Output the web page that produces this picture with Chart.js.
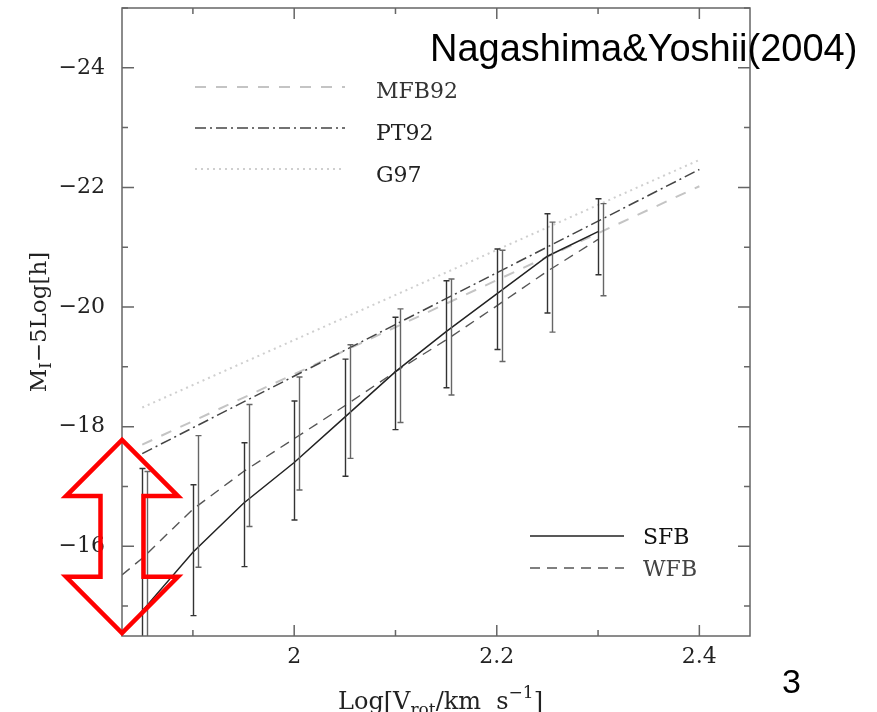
<!DOCTYPE html>
<html>
<head>
<meta charset="utf-8">
<script src="https://cdn.jsdelivr.net/npm/chart.js@4.4.1/dist/chart.umd.min.js"></script>
<style>
  html, body { margin: 0; padding: 0; background: #fff; }
  canvas { display: block; }
</style>
</head>
<body>
<canvas id="tf-chart" width="877" height="712"></canvas>
<script>
// Model Tully-Fisher relations, sampled in log rotation velocity
var logV = [1.83, 1.85, 1.90, 1.95, 2.00, 2.05, 2.10, 2.15, 2.20, 2.25, 2.30];
var sfbMag = [-14.52, -14.92, -15.90, -16.72, -17.40, -18.16, -18.92, -19.59, -20.22, -20.85, -21.26];
var wfbMag = [-15.52, -15.80, -16.62, -17.25, -17.80, -18.35, -18.92, -19.45, -20.02, -20.60, -21.13];

// Observed relations
var obsLogV = [1.85, 2.40];
var mfb92Mag = [-17.70, -22.02];
var pt92Mag = [-17.55, -22.30];
var g97Mag = [-18.32, -22.46];

// Scatter of model galaxies in each velocity bin (bright end / faint end)
var binLogV = [1.85, 1.90, 1.95, 2.00, 2.05, 2.10, 2.15, 2.20, 2.25, 2.30];
var sfbBright = [-17.30, -17.03, -17.73, -18.43, -19.13, -19.83, -20.44, -20.97, -21.56, -21.81];
var sfbFaint = [-12.50, -14.84, -15.66, -16.44, -17.17, -17.95, -18.65, -19.29, -19.90, -20.54];
var wfbBright = [-17.25, -17.85, -18.37, -18.83, -19.37, -19.97, -20.47, -20.95, -21.42, -21.73];
var wfbFaint = [-14.30, -15.65, -16.33, -16.94, -17.47, -18.07, -18.53, -19.09, -19.58, -20.19];

// Labelled ticks
var xMajorTicks = [2.0, 2.2, 2.4];
var xTickLabels = ["2", "2.2", "2.4"];
var yMajorTicks = [-24, -22, -20, -18, -16];
var yTickLabels = ["\u221224", "\u221222", "\u221220", "\u221218", "\u221216"];

var serif = '"DejaVu Serif", serif';

function toPoints(xs, ys) {
  return xs.map(function (x, i) { return { x: x, y: ys[i] }; });
}

function labelFor(value, ticks, labels) {
  for (var i = 0; i < ticks.length; i++) {
    if (Math.abs(ticks[i] - value) < 1e-6) return labels[i];
  }
  return "";
}

function isMajorX(v) { return Math.round(v * 10) % 2 === 0; }
function isMajorY(v) { return Math.round(v) % 2 === 0; }

// draws a run of text pieces with sub/superscripts, starting at x on baseline y
function richText(ctx, parts, x, y) {
  parts.forEach(function (p) {
    ctx.font = p.size + "px " + serif;
    ctx.fillText(p.text, x, y + (p.dy || 0));
    x += ctx.measureText(p.text).width;
  });
}
function richWidth(ctx, parts) {
  var w = 0;
  parts.forEach(function (p) {
    ctx.font = p.size + "px " + serif;
    w += ctx.measureText(p.text).width;
  });
  return w;
}

var styles = {
  sfb: { color: "#222", width: 1.5, dash: [] },
  wfb: { color: "#555", width: 1.4, dash: [10, 7] },
  mfb92: { color: "#c4c4c4", width: 2, dash: [11, 10] },
  pt92: { color: "#444", width: 1.5, dash: [11, 4, 2, 4] },
  g97: { color: "#cfcfcf", width: 2, dash: [2, 4] }
};

function lineSet(label, xs, ys, st) {
  return {
    label: label,
    data: toPoints(xs, ys),
    showLine: true,
    borderColor: st.color,
    borderWidth: st.width,
    borderDash: st.dash,
    pointRadius: 0,
    tension: 0,
    fill: false
  };
}

var whiteBg = {
  id: "whiteBg",
  beforeDraw: function (chart) {
    var ctx = chart.ctx;
    ctx.save();
    ctx.fillStyle = "#fff";
    ctx.fillRect(0, 0, chart.width, chart.height);
    ctx.restore();
  }
};

var errorBars = {
  id: "errorBars",
  afterDatasetsDraw: function (chart) {
    var ctx = chart.ctx, a = chart.chartArea;
    var xs = chart.scales.x, ys = chart.scales.y;
    ctx.save();
    ctx.beginPath();
    ctx.rect(a.left, a.top, a.right - a.left, a.bottom - a.top);
    ctx.clip();
    [
      { hi: sfbBright, lo: sfbFaint, shift: 0, color: "#333" },
      { hi: wfbBright, lo: wfbFaint, shift: 5, color: "#666" }
    ].forEach(function (s) {
      ctx.strokeStyle = s.color;
      ctx.lineWidth = 1.4;
      binLogV.forEach(function (v, i) {
        var x = Math.round(xs.getPixelForValue(v) + s.shift) + 0.5;
        var y1 = ys.getPixelForValue(s.hi[i]);
        var y2 = ys.getPixelForValue(s.lo[i]);
        ctx.beginPath();
        ctx.moveTo(x, y1); ctx.lineTo(x, y2);
        ctx.moveTo(x - 3, y1); ctx.lineTo(x + 3, y1);
        ctx.moveTo(x - 3, y2); ctx.lineTo(x + 3, y2);
        ctx.stroke();
      });
    });
    ctx.restore();
  }
};

// box round the plot with inward ticks on all four sides
var frame = {
  id: "frame",
  afterDatasetsDraw: function (chart) {
    var ctx = chart.ctx, a = chart.chartArea;
    var xs = chart.scales.x, ys = chart.scales.y;
    ctx.save();
    ctx.strokeStyle = "#666";
    ctx.lineWidth = 1.5;
    ctx.strokeRect(a.left, a.top, a.right - a.left, a.bottom - a.top);
    ctx.beginPath();
    xs.ticks.forEach(function (t) {
      var x = xs.getPixelForValue(t.value);
      var len = isMajorX(t.value) ? 11 : 6;
      ctx.moveTo(x, a.bottom); ctx.lineTo(x, a.bottom - len);
      ctx.moveTo(x, a.top); ctx.lineTo(x, a.top + len);
    });
    ys.ticks.forEach(function (t) {
      var y = ys.getPixelForValue(t.value);
      var len = isMajorY(t.value) ? 12 : 6;
      ctx.moveTo(a.left, y); ctx.lineTo(a.left + len, y);
      ctx.moveTo(a.right, y); ctx.lineTo(a.right - len, y);
    });
    ctx.stroke();
    ctx.restore();
  }
};

// in-plot key: line sample followed by its name
var keyRows = [
  { text: "MFB92", st: styles.mfb92, x0: 73, x1: 223, lineY: 79, textX: 254, baseY: 90, color: "#333" },
  { text: "PT92", st: styles.pt92, x0: 73, x1: 223, lineY: 120, textX: 254, baseY: 132, color: "#222" },
  { text: "G97", st: styles.g97, x0: 73, x1: 223, lineY: 161, textX: 254, baseY: 174, color: "#222" },
  { text: "SFB", st: styles.sfb, x0: 408, x1: 502, lineY: 528, textX: 521, baseY: 536, color: "#111" },
  { text: "WFB", st: styles.wfb, x0: 408, x1: 502, lineY: 560, textX: 521, baseY: 568, color: "#444" }
];

var keyPlugin = {
  id: "key",
  afterDatasetsDraw: function (chart) {
    var ctx = chart.ctx, a = chart.chartArea;
    ctx.save();
    keyRows.forEach(function (r) {
      ctx.strokeStyle = r.st.color;
      ctx.lineWidth = r.st.width;
      ctx.setLineDash(r.st.dash);
      ctx.beginPath();
      ctx.moveTo(a.left + r.x0, a.top + r.lineY);
      ctx.lineTo(a.left + r.x1, a.top + r.lineY);
      ctx.stroke();
      ctx.setLineDash([]);
      ctx.fillStyle = r.color;
      ctx.font = "22px " + serif;
      ctx.textBaseline = "alphabetic";
      ctx.textAlign = "left";
      ctx.fillText(r.text, a.left + r.textX, a.top + r.baseY);
    });
    ctx.restore();
  }
};

// red double-headed arrow on the left edge of the plot
var arrow = { top: -17.78, headTop: -16.84, headBottom: -15.49, bottom: -14.55, headHalf: 56, shaftHalf: 21.5 };

var annotations = {
  id: "annotations",
  afterDraw: function (chart) {
    var ctx = chart.ctx, a = chart.chartArea;
    var xs = chart.scales.x, ys = chart.scales.y;
    ctx.save();

    // arrow
    var cx = xs.getPixelForValue(xs.min);
    var yT = ys.getPixelForValue(arrow.top), yHT = ys.getPixelForValue(arrow.headTop);
    var yHB = ys.getPixelForValue(arrow.headBottom), yB = ys.getPixelForValue(arrow.bottom);
    ctx.strokeStyle = "#ff0000";
    ctx.lineWidth = 4.5;
    ctx.lineJoin = "miter";
    ctx.beginPath();
    ctx.moveTo(cx, yT);
    ctx.lineTo(cx + arrow.headHalf, yHT);
    ctx.lineTo(cx + arrow.shaftHalf, yHT);
    ctx.lineTo(cx + arrow.shaftHalf, yHB);
    ctx.lineTo(cx + arrow.headHalf, yHB);
    ctx.lineTo(cx, yB);
    ctx.lineTo(cx - arrow.headHalf, yHB);
    ctx.lineTo(cx - arrow.shaftHalf, yHB);
    ctx.lineTo(cx - arrow.shaftHalf, yHT);
    ctx.lineTo(cx - arrow.headHalf, yHT);
    ctx.closePath();
    ctx.stroke();

    // axis titles
    ctx.fillStyle = "#222";
    ctx.textAlign = "left";
    ctx.textBaseline = "alphabetic";
    var yTitle = [
      { text: "M", size: 23 },
      { text: "I", size: 16, dy: 5 },
      { text: "\u22125Log[h]", size: 23 }
    ];
    ctx.save();
    ctx.translate(46, (a.top + a.bottom) / 2);
    ctx.rotate(-Math.PI / 2);
    richText(ctx, yTitle, -richWidth(ctx, yTitle) / 2, 0);
    ctx.restore();

    var xTitle = [
      { text: "Log[V", size: 24 },
      { text: "rot", size: 17, dy: 6 },
      { text: "/km  s", size: 24 },
      { text: "\u22121", size: 17, dy: -11 },
      { text: "]", size: 24 }
    ];
    richText(ctx, xTitle, 338, 709);

    // heading and page number
    ctx.fillStyle = "#000";
    ctx.font = '38px "Liberation Sans", Arial, sans-serif';
    ctx.fillText("Nagashima&Yoshii(2004)", 430, 61);
    ctx.font = '34px "Liberation Sans", Arial, sans-serif';
    ctx.fillText("3", 782, 693);
    ctx.restore();
  }
};

function noScalePadding(s) {
  s.paddingTop = 0;
  s.paddingBottom = 0;
  s.paddingLeft = 0;
  s.paddingRight = 0;
}

var canvas = document.getElementById("tf-chart");

var chart = new Chart(canvas, {
  type: "scatter",
  data: {
    datasets: [
      lineSet("SFB", logV, sfbMag, styles.sfb),
      lineSet("WFB", logV, wfbMag, styles.wfb),
      lineSet("PT92", obsLogV, pt92Mag, styles.pt92),
      lineSet("MFB92", obsLogV, mfb92Mag, styles.mfb92),
      lineSet("G97", obsLogV, g97Mag, styles.g97)
    ]
  },
  options: {
    responsive: false,
    animation: false,
    devicePixelRatio: 1,
    layout: { autoPadding: false, padding: { top: 8, right: 127, left: 0, bottom: 0 } },
    plugins: {
      legend: { display: false },
      tooltip: { enabled: false }
    },
    scales: {
      x: {
        type: "linear",
        min: 1.83,
        max: 2.45,
        grid: { display: false, drawTicks: false },
        border: { display: false },
        afterFit: function (s) { s.height = 76; noScalePadding(s); },
        ticks: {
          stepSize: 0.1,
          includeBounds: false,
          autoSkip: false,
          maxRotation: 0,
          padding: 8,
          color: "#222",
          font: { family: serif, size: 22 },
          callback: function (v) { return labelFor(v, xMajorTicks, xTickLabels); }
        }
      },
      y: {
        type: "linear",
        reverse: true,
        min: -25,
        max: -14.5,
        grid: { display: false, drawTicks: false },
        border: { display: false },
        afterFit: function (s) { s.width = 122; noScalePadding(s); },
        ticks: {
          stepSize: 1,
          includeBounds: false,
          autoSkip: false,
          padding: 17,
          color: "#222",
          font: { family: serif, size: 22 },
          callback: function (v) { return labelFor(v, yMajorTicks, yTickLabels); }
        }
      }
    }
  },
  plugins: [whiteBg, errorBars, frame, keyPlugin, annotations]
});
</script>
</body>
</html>
